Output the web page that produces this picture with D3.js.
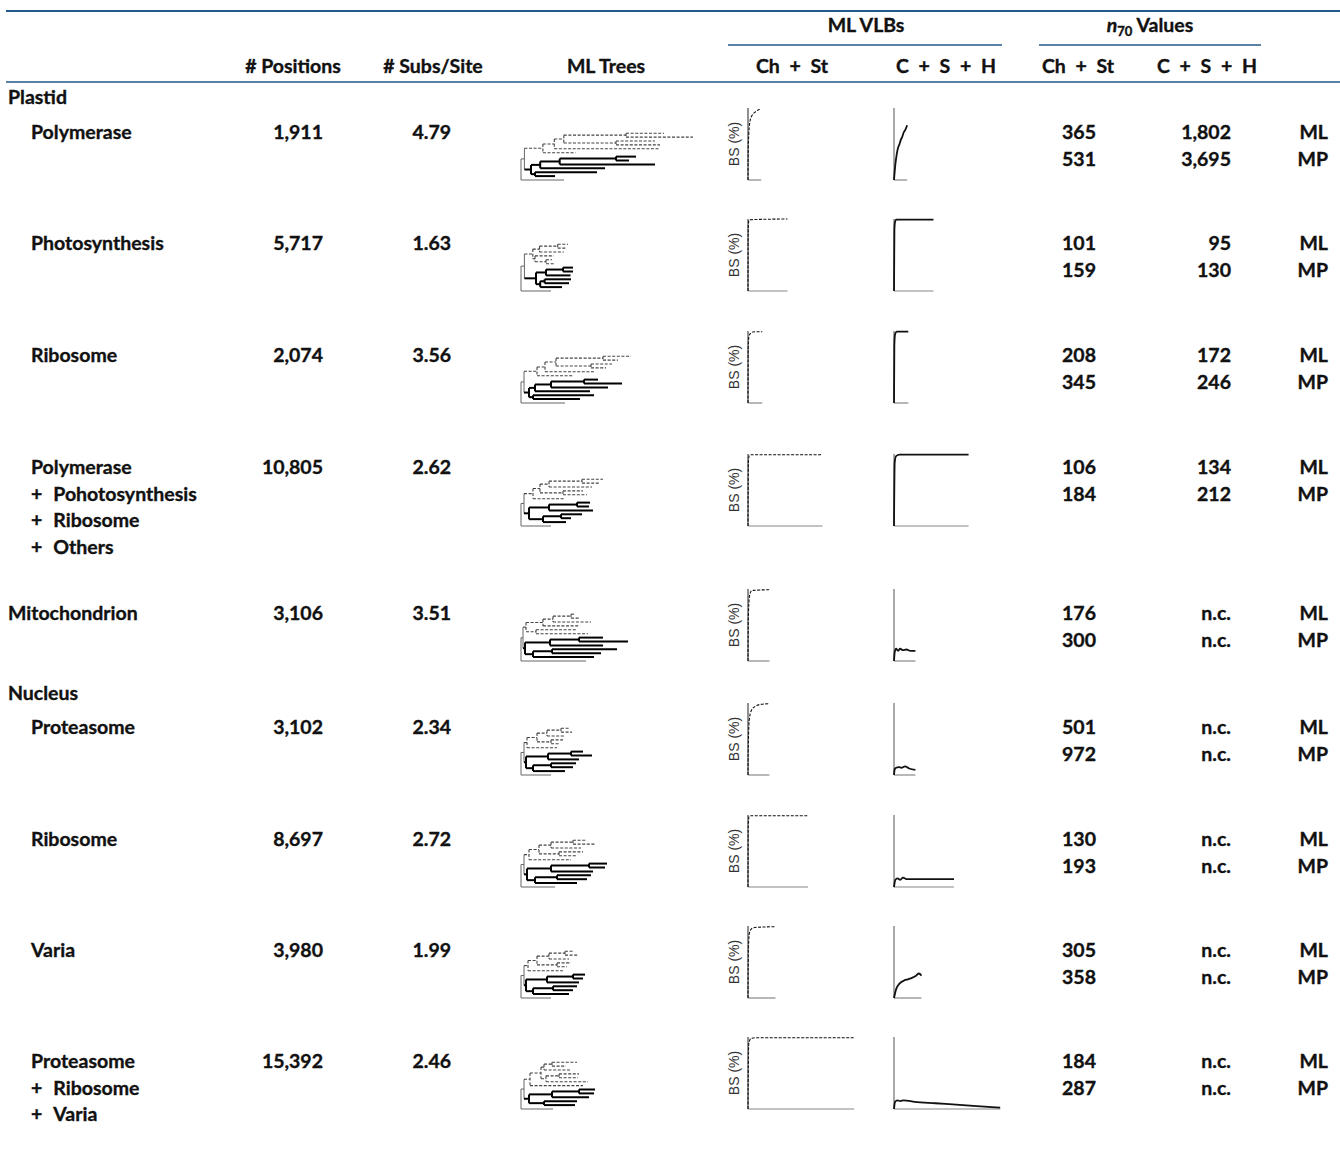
<!DOCTYPE html>
<html>
<head>
<meta charset="utf-8">
<script src="https://d3js.org/d3.v7.min.js"></script>
<style>
  body { margin: 0; background: #fff; }
  text { font-family: Lato, "Open Sans", sans-serif; font-weight: bold; font-size: 19.5px; fill: #111; stroke: #111; stroke-width: 0.35px; }
  .bs { font-family: "Liberation Sans", Arial, sans-serif; font-weight: normal; font-size: 14px; fill: #333; stroke: none; }
</style>
</head>
<body>
<div id="chart"></div>
<script>
// ---- data ----
const plus = '+\u2002\u200a';
const rowLabels = [
  ['Polymerase'], ['Photosynthesis'], ['Ribosome'],
  ['Polymerase', plus + 'Pohotosynthesis', plus + 'Ribosome', plus + 'Others'],
  ['Mitochondrion'],
  ['Proteasome'], ['Ribosome'], ['Varia'],
  ['Proteasome', plus + 'Ribosome', plus + 'Varia']
];
const rowIndent = [1, 1, 1, 1, 0, 1, 1, 1, 1];
const groupLabels = ['Plastid', 'Nucleus'];
const positions = [1911, 5717, 2074, 10805, 3106, 3102, 8697, 3980, 15392];
const subsPerSite = [4.79, 1.63, 3.56, 2.62, 3.51, 2.34, 2.72, 1.99, 2.46];
const n70ChStML = [365, 101, 208, 106, 176, 501, 130, 305, 184];
const n70ChStMP = [531, 159, 345, 184, 300, 972, 193, 358, 287];
const n70CSHML = [1802, 95, 172, 134, null, null, null, null, null];   // null = n.c.
const n70CSHMP = [3695, 130, 246, 212, null, null, null, null, null];
const methods = ['ML', 'MP'];

// ML trees, newick-like; number after ':' = distance of node from root
const trees = [
  '((((((:143,:172):105,(:134,:139):95):42.8,:139):33.3,:54.5):21.9,((((:115,:108):95,:134):38.7,:84):19.2,(:76,:34):14):10):3.4,:43)',
  '(((((:47,:44.4):36.7,:42.8):18.5,(:32.7,(:31,:33):25):14):11.8,(((:52,:52):42,:49.5):25,((:50,:48):23.6,:41):19.2):15):3.4,:30)',
  '((((((:110,:97):82,(:91,:85):70):35,:74):24,:52):16,((((:77,:101):63,:87):30,:69):14,(:73,:59):12):8):3,:44)',
  '((((((:82,:79):61,:71):28,(:62,:66):42):19,:44):12,(((:69,:68):56,:72):28,((:61,:50):40,:45):22):8):3,:30)',
  '((((((:54,:58):50,:70):32,:58):22,(:55,:67):15):5,(((:82,:107):58,:82):29,((:96,:80):31,:73):12):4):2,:65)',
  '((((((:49,:51):40,:44):26,(:42,:38):30):16,:36):6,(((:62,:71):50,:58):27,((:55,:52):30,:44):12):5):3,:30)',
  '((((((:66,:74):52,:60):30,(:62,:55):38):18,:50):8,(((:86,:84):68,:72):30,((:70,:66):36,:56):14):6):3,:34)',
  '((((((:52,:57):44,:48):28,(:50,:46):36):16,:42):7,(((:64,:62):52,:58):26,((:56,:52):32,:48):12):5):3,:30)',
  '((((((:56,:45):31,:49):23,((:58,:57):38,:67):25):20,:62):9,(((:74,:73):58,:68):31,(:56,:54):23):8):3,:32)'
];

// bootstrap support (%) vs number of sampled positions
const vlbChSt = [
  [[0, 0], [40, 45], [120, 65], [300, 82], [600, 90], [1000, 94], [1400, 97], [1800, 98]],
  [[0, 0], [30, 80], [80, 96], [200, 99], [5717, 100]],
  [[0, 0], [40, 78], [150, 93], [400, 97], [900, 99], [2074, 99]],
  [[0, 0], [60, 90], [200, 98], [500, 99], [10805, 99]],
  [[0, 0], [50, 60], [150, 84], [300, 94], [600, 98], [3106, 99]],
  [[0, 0], [60, 50], [200, 78], [500, 90], [1000, 95], [1800, 98], [3102, 99]],
  [[0, 0], [40, 88], [150, 98], [400, 99], [8697, 99]],
  [[0, 0], [60, 68], [200, 90], [500, 96], [1000, 98], [3980, 99]],
  [[0, 0], [100, 90], [400, 98], [1200, 99], [15392, 99]]
];
const vlbCSH = [
  [[0, 0], [200, 22], [400, 36], [600, 45], [800, 50], [1000, 56], [1200, 60], [1400, 66], [1600, 69], [1911, 76]],
  [[0, 0], [60, 85], [150, 96], [300, 99], [5717, 99]],
  [[0, 0], [50, 80], [150, 95], [400, 99], [2074, 99]],
  [[0, 0], [100, 88], [300, 97], [800, 99], [10805, 99]],
  [[0, 0], [100, 12], [300, 17], [600, 14], [900, 17], [1300, 15], [1800, 16], [2400, 14], [3106, 14]],
  [[0, 0], [100, 8], [300, 10], [700, 11], [1100, 10], [1600, 12], [2200, 9], [3102, 7]],
  [[0, 0], [200, 10], [500, 12], [900, 10], [1300, 13], [1800, 11], [3000, 11], [5000, 11], [8697, 11]],
  [[0, 0], [300, 12], [800, 20], [1400, 24], [2000, 26], [2600, 28], [3200, 31], [3600, 34], [3980, 31]],
  [[0, 0], [150, 10], [500, 12], [900, 11], [1400, 12], [3000, 10], [6000, 8], [9000, 6], [12000, 4], [15392, 2]]
];

// ---- layout ----
const W = 1340, H = 1155;
const rowY = [132, 243, 355, 467, 613, 727, 839, 950, 1061];
const groupY = [97, 693];
const plotBottom = [180, 291, 403, 526, 661, 775, 887, 998, 1109];
const lineH = 26.7;
const plotH = 72;
const blue = '#23598a';
const sp = '\u2002';

const svg = d3.select('#chart').append('svg')
  .attr('width', W).attr('height', H);

// header rules
svg.append('line').attr('x1', 6).attr('x2', W).attr('y1', 11).attr('y2', 11)
  .attr('stroke', blue).attr('stroke-width', 2);
svg.append('line').attr('x1', 6).attr('x2', W).attr('y1', 82).attr('y2', 82)
  .attr('stroke', blue).attr('stroke-width', 1.5);
svg.append('line').attr('x1', 728).attr('x2', 1002).attr('y1', 45).attr('y2', 45)
  .attr('stroke', blue).attr('stroke-width', 1.5);
svg.append('line').attr('x1', 1039).attr('x2', 1261).attr('y1', 45).attr('y2', 45)
  .attr('stroke', blue).attr('stroke-width', 1.5);

svg.append('text').attr('x', 866).attr('y', 25).attr('dy', '0.35em')
  .attr('text-anchor', 'middle').text('ML VLBs');
const n70 = svg.append('text').attr('x', 1150).attr('y', 25).attr('dy', '0.35em')
  .attr('text-anchor', 'middle');
n70.append('tspan').style('font-style', 'italic').text('n');
n70.append('tspan').attr('font-size', 13).attr('dy', 4).text('70');
n70.append('tspan').attr('dy', -4).text(' Values');

const colHeads = [
  ['# Positions', 293], ['# Subs/Site', 433], ['ML Trees', 606],
  [`Ch${sp}+${sp}St`, 792], [`C${sp}+${sp}S${sp}+${sp}H`, 946],
  [`Ch${sp}+${sp}St`, 1078], [`C${sp}+${sp}S${sp}+${sp}H`, 1207]
];
svg.selectAll('.colhead').data(colHeads).enter().append('text')
  .attr('class', 'colhead')
  .attr('x', d => d[1]).attr('y', 66).attr('dy', '0.35em')
  .attr('text-anchor', 'middle').text(d => d[0]);

// group labels
svg.selectAll('.group').data(groupLabels).enter().append('text')
  .attr('class', 'group')
  .attr('x', 8).attr('y', (d, i) => groupY[i]).attr('dy', '0.35em').text(d => d);

const fmtInt = d3.format(',');
const fmtSub = d3.format('.2f');

// scales for VLB plots and trees
const siteX = d3.scaleLinear().domain([0, 16000]).range([0, 110.4]);
const bsY = d3.scaleLinear().domain([0, 100]).range([plotH, 0]);
const treeX = d3.scaleLinear().domain([0, 100]).range([0, 100]);
const leafGap = 3.9;

function parseTree(s) {
  let i = 0;
  function node() {
    const n = { children: [] };
    if (s[i] === '(') {
      i++;
      n.children.push(node());
      while (s[i] === ',') { i++; n.children.push(node()); }
      i++;
    }
    n.depth = 0;
    if (s[i] === ':') {
      i++;
      const j = i;
      while (i < s.length && /[0-9.]/.test(s[i])) i++;
      n.depth = +s.slice(j, i);
    }
    return n;
  }
  return node();
}

const lineGen = d3.line().x(d => siteX(d[0])).y(d => bsY(d[1])).curve(d3.curveMonotoneX);

rowLabels.forEach((labels, r) => {
  const y0 = rowY[r];

  // row labels
  svg.append('g').selectAll('text').data(labels).enter().append('text')
    .attr('x', rowIndent[r] ? 31 : 8)
    .attr('y', (d, i) => y0 + i * lineH).attr('dy', '0.35em')
    .text(d => d);

  svg.append('text').attr('x', 323).attr('y', y0).attr('dy', '0.35em')
    .attr('text-anchor', 'end').text(fmtInt(positions[r]));
  svg.append('text').attr('x', 451).attr('y', y0).attr('dy', '0.35em')
    .attr('text-anchor', 'end').text(fmtSub(subsPerSite[r]));

  const vals = [
    [n70ChStML[r], n70ChStMP[r]],
    [n70CSHML[r], n70CSHMP[r]]
  ];
  [1096, 1231].forEach((xr, c) => {
    vals[c].forEach((v, k) => {
      svg.append('text').attr('x', xr).attr('y', y0 + k * lineH).attr('dy', '0.35em')
        .attr('text-anchor', 'end').text(v == null ? 'n.c.' : fmtInt(v));
    });
  });
  methods.forEach((m, k) => {
    svg.append('text').attr('x', 1328).attr('y', y0 + k * lineH).attr('dy', '0.35em')
      .attr('text-anchor', 'end').text(m);
  });

  // ---- tree ----
  const root = d3.hierarchy(parseTree(trees[r]), d => d.children.length ? d.children : null);
  const leaves = root.leaves();
  const yb = plotBottom[r];
  leaves.forEach((l, i) => { l.py = yb - (leaves.length - 1 - i) * leafGap; });
  root.eachAfter(n => {
    n.px = 521 + treeX(n.data.depth);
    if (n.children) n.py = (n.children[0].py + n.children[n.children.length - 1].py) / 2;
  });
  const ingroup = root.children[0];
  const dashClade = new Set(ingroup.children[0].descendants());
  const solidClade = new Set(ingroup.children[1].descendants());
  const style = n => dashClade.has(n) ? 'dash' : solidClade.has(n) ? 'solid' : 'thin';

  const tg = svg.append('g');
  const applyStyle = (sel, st) => sel
    .attr('stroke', st === 'dash' ? '#444' : st === 'solid' ? '#000' : '#666')
    .attr('stroke-width', st === 'dash' ? 1.1 : st === 'solid' ? 2 : 1)
    .attr('stroke-dasharray', st === 'dash' ? '3,1.6' : null)
    .attr('fill', 'none');

  root.descendants().forEach(n => {
    if (n.parent) {
      applyStyle(tg.append('line')
        .attr('x1', n.parent.px).attr('x2', n.px)
        .attr('y1', n.py).attr('y2', n.py), style(n));
    }
    if (n.children) {
      applyStyle(tg.append('line')
        .attr('x1', n.px).attr('x2', n.px)
        .attr('y1', n.children[0].py).attr('y2', n.children[n.children.length - 1].py), style(n));
    }
  });

  // ---- VLB plots ----
  const w = siteX(positions[r]);
  [[748, vlbChSt[r], true], [894, vlbCSH[r], false]].forEach(([x0, pts, dashed]) => {
    const g = svg.append('g').attr('transform', `translate(${x0},${yb - plotH})`);
    g.append('line').attr('x1', 0).attr('x2', 0).attr('y1', 0).attr('y2', plotH)
      .attr('stroke', dashed ? '#222' : '#555').attr('stroke-width', 1);
    g.append('line').attr('x1', 0).attr('x2', w).attr('y1', plotH).attr('y2', plotH)
      .attr('stroke', '#888').attr('stroke-width', 1.2);
    g.append('path').datum(pts).attr('d', lineGen)
      .attr('fill', 'none').attr('stroke', '#111')
      .attr('stroke-width', dashed ? 1.1 : 1.8)
      .attr('stroke-dasharray', dashed ? '3,1.5' : null);
    if (dashed) {
      g.append('text').attr('class', 'bs')
        .attr('transform', `translate(-9,${plotH / 2}) rotate(-90)`)
        .attr('text-anchor', 'middle').text('BS (%)');
    }
  });
});
</script>
</body>
</html>
